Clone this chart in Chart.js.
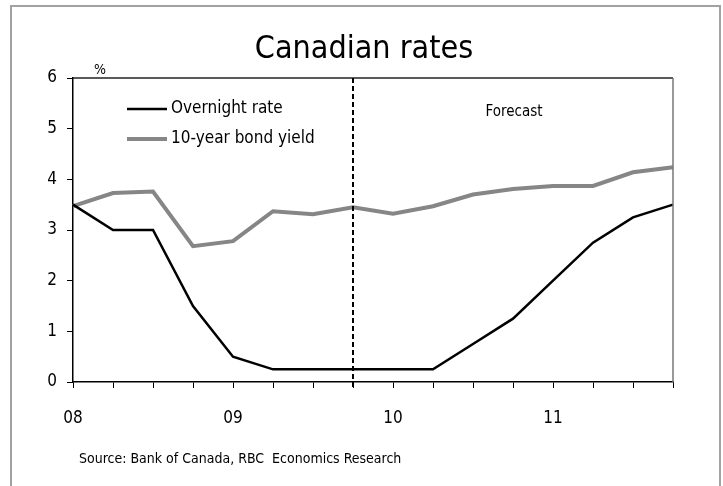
<!DOCTYPE html>
<html>
<head>
<meta charset="utf-8">
<script src="https://cdn.jsdelivr.net/npm/chart.js@4/dist/chart.umd.min.js"></script>
<style>
  body { margin: 0; background: #fff; }
  #frame { position: absolute; left: 10px; top: 5px; width: 707px; height: 540px; border: 2px solid #a2a2a2; }
  #wrap { position: absolute; left: 0; top: 0; width: 723px; height: 486px; }
</style>
</head>
<body>
<div id="frame"></div>
<div id="wrap"><canvas id="chart" width="723" height="486"></canvas></div>
<script>
// quarterly, 2008 Q1 .. 2011 Q4
const quarters = ['08Q1','08Q2','08Q3','08Q4','09Q1','09Q2','09Q3','09Q4',
                  '10Q1','10Q2','10Q3','10Q4','11Q1','11Q2','11Q3','11Q4'];
const yearLabels = ['08', '09', '10', '11'];
const overnight = [3.5, 3.0, 3.0, 1.5, 0.5, 0.25, 0.25, 0.25, 0.25, 0.25, 0.75, 1.25, 2.0, 2.75, 3.25, 3.5];
const bondYield = [3.47, 3.73, 3.76, 2.68, 2.78, 3.37, 3.31, 3.45, 3.32, 3.47, 3.70, 3.81, 3.87, 3.87, 4.14, 4.24];
const yTicks = [0, 1, 2, 3, 4, 5, 6];
const forecastStart = '09Q4';

const FONT = "'Liberation Sans Narrow', 'DejaVu Sans Condensed', sans-serif";

// title, plot box, dashed forecast line, legend and notes
const overlay = {
  id: 'overlay',
  afterDatasetsDraw(chart) {
    const ctx = chart.ctx;
    const a = chart.chartArea;
    const x = chart.scales.x;
    ctx.save();
    // top and right frame of plot area
    ctx.lineWidth = 1.5;
    ctx.strokeStyle = '#222';
    ctx.beginPath();
    ctx.moveTo(a.left, a.top);
    ctx.lineTo(a.right, a.top);
    ctx.stroke();
    ctx.strokeStyle = '#777';
    ctx.beginPath();
    ctx.moveTo(a.right, a.top);
    ctx.lineTo(a.right, a.bottom);
    ctx.stroke();

    // forecast divider
    const fx = x.getPixelForValue(quarters.indexOf(forecastStart));
    ctx.strokeStyle = '#000';
    ctx.lineWidth = 2;
    ctx.setLineDash([5, 3]);
    ctx.beginPath();
    ctx.moveTo(fx, a.top);
    ctx.lineTo(fx, a.bottom + 6);
    ctx.stroke();
    ctx.setLineDash([]);

    // legend inside the plot
    const items = chart.data.datasets;
    ctx.font = '17px ' + FONT;
    ctx.textBaseline = 'middle';
    ctx.fillStyle = '#000';
    items.forEach((ds, i) => {
      const ly = a.top + 31 + i * 30;
      ctx.strokeStyle = ds.borderColor;
      ctx.lineWidth = ds.borderWidth;
      ctx.beginPath();
      ctx.moveTo(a.left + 54, ly);
      ctx.lineTo(a.left + 94, ly);
      ctx.stroke();
      ctx.fillText(ds.label, a.left + 98, ly);
    });

    ctx.textAlign = 'center';
    ctx.font = '32px ' + FONT;
    ctx.fillText('Canadian rates', 364, 50);
    ctx.font = '15px ' + FONT;
    ctx.fillText('Forecast', 514, a.top + 34);
    ctx.font = '14px ' + FONT;
    ctx.fillText('%', 100, a.top - 8);

    ctx.textAlign = 'left';
    ctx.font = '14px ' + FONT;
    ctx.fillText('Source: Bank of Canada, RBC  Economics Research', 79, 459);
    ctx.restore();
  }
};

new Chart(document.getElementById('chart'), {
  type: 'line',
  data: {
    labels: quarters,
    datasets: [
      {
        label: 'Overnight rate',
        data: overnight,
        borderColor: '#000',
        borderWidth: 2.5,
        pointRadius: 0,
        tension: 0,
        clip: false
      },
      {
        label: '10-year bond yield',
        data: bondYield,
        borderColor: '#868686',
        borderWidth: 4,
        pointRadius: 0,
        tension: 0,
        clip: false
      }
    ]
  },
  options: {
    responsive: false,
    animation: false,
    layout: { padding: { left: 0, right: 50, top: 78, bottom: 0 } },
    plugins: {
      legend: { display: false },
      tooltip: { enabled: false },
      title: { display: false }
    },
    scales: {
      x: {
        type: 'category',
        offset: false,
        grid: { display: true, drawOnChartArea: false, drawTicks: true, tickLength: 6, color: '#000', lineWidth: 1 },
        border: { display: true, color: '#000', width: 1.5 },
        ticks: {
          autoSkip: false,
          maxRotation: 0,
          padding: 20,
          color: '#000',
          font: { family: FONT, size: 17 },
          callback: (v, i) => (i % 4 === 0 ? yearLabels[i / 4] : '')
        },
        afterFit: (s) => { s.height = 104; }
      },
      y: {
        min: 0,
        max: 6,
        grid: { display: true, drawOnChartArea: false, drawTicks: true, tickLength: 6, color: '#000', lineWidth: 1 },
        border: { display: true, color: '#000', width: 1.5 },
        afterBuildTicks: (s) => { s.ticks = yTicks.map(v => ({ value: v })); },
        ticks: {
          padding: 10,
          color: '#000',
          font: { family: FONT, size: 17 }
        },
        afterFit: (s) => { s.width = 73; }
      }
    }
  },
  plugins: [overlay]
});
</script>
</body>
</html>
